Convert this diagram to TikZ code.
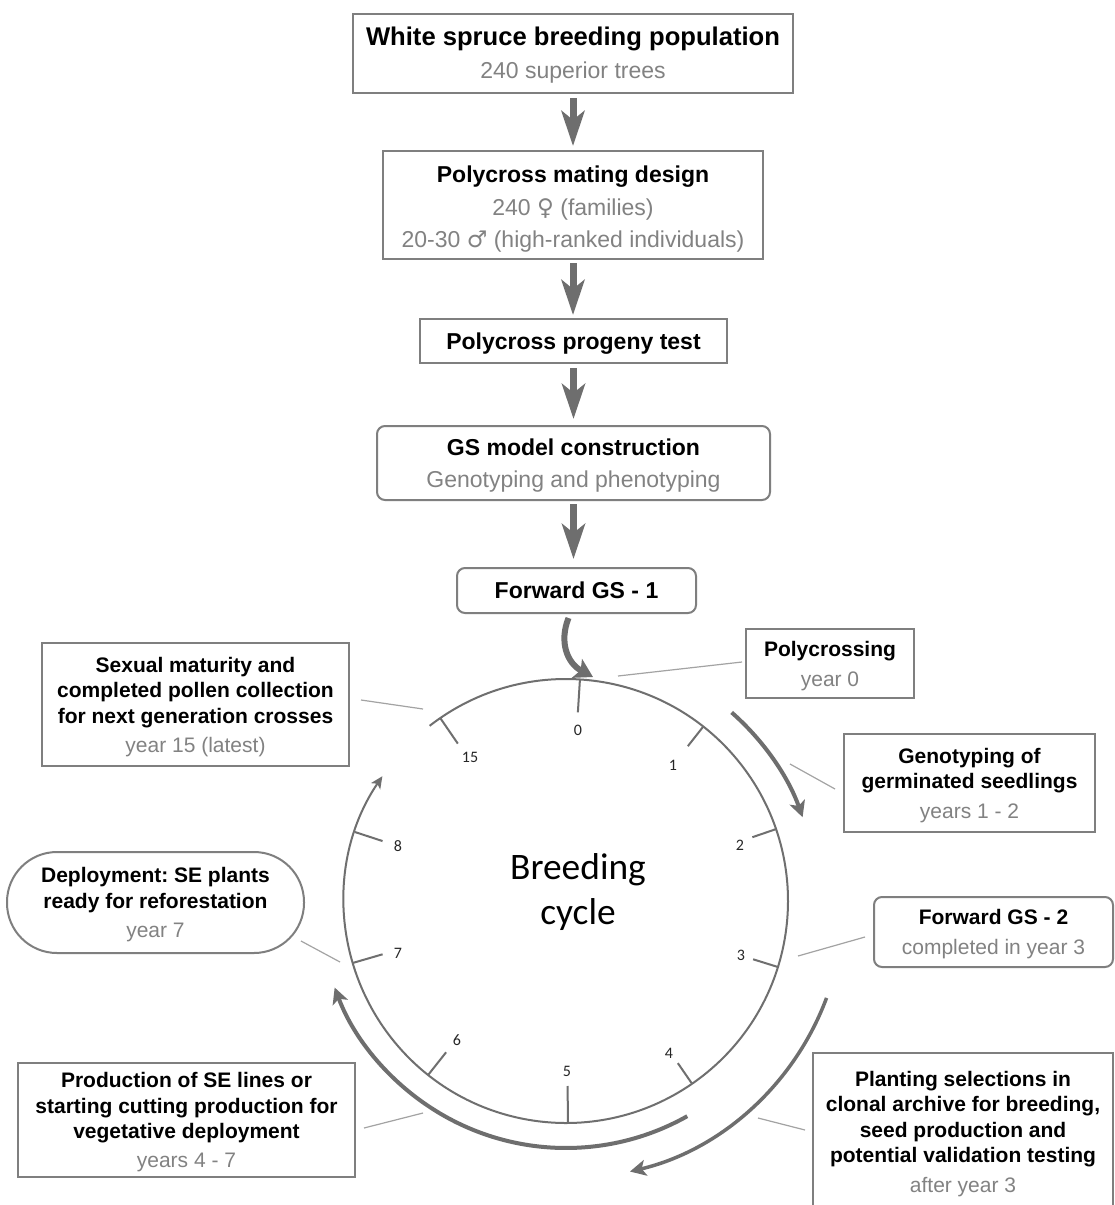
\documentclass[tikz,border=0pt]{standalone}
\usepackage{fontspec}
\setmainfont{Liberation Sans}
\newfontfamily\calib{Carlito}
\newfontfamily\dejavu{DejaVu Sans}
\usetikzlibrary{arrows.meta,calc}
\frenchspacing
\definecolor{boxline}{HTML}{7F7F7F}
\definecolor{txtgray}{HTML}{828282}
\definecolor{arrowgray}{HTML}{6E6E6E}
\definecolor{circgray}{HTML}{6F6F6F}
\definecolor{conngray}{HTML}{A3A3A3}
% struts that centre the visible text in its box
\newcommand{\tT}{\rule{0pt}{22.9pt}}   % title line top
\newcommand{\tA}{\rule{0pt}{22pt}}     % 23pt text top
\newcommand{\bA}{\rule[-5.5pt]{0pt}{5.5pt}} % 23pt text bottom
\newcommand{\tB}{\rule{0pt}{20pt}}     % 21pt text top
\newcommand{\bB}{\rule[-5pt]{0pt}{5pt}}     % 21pt text bottom
\begin{document}
\begin{tikzpicture}[x=1pt,y=1pt,
  box/.style={draw=boxline,line width=2pt,align=center,inner sep=0pt},
  rbox/.style={box,rounded corners=8pt},
  topfont/.style={font=\fontsize{23}{32.5}\selectfont},
  cycfont/.style={font=\fontsize{21}{25.5}\selectfont},
  bigarrow/.style={draw=arrowgray,line width=7pt,-{Stealth[length=35pt,width=23pt,inset=9pt]}},
  ringarrow/.style={draw=arrowgray,line width=4pt,-{Stealth[length=16pt,width=16pt,inset=4pt]}},
  conn/.style={draw=conngray,line width=1.2pt},
  tickline/.style={draw=circgray,line width=2pt},
  ticklabel/.style={font=\calib\fontsize{16}{16}\selectfont,text=black!85,inner sep=0pt}]

\path[use as bounding box, clip] (0,0) rectangle (1114,-1205);
\fill[white] (0,0) rectangle (1114,-1205);

% ---------- top chain ----------
\node[box,topfont,minimum width=440,minimum height=79] (b1) at (573,-53.5)
  {\tT{\fontsize{25.6}{32.5}\selectfont\bfseries White spruce breeding population}\\\textcolor{txtgray}{240 superior trees}\bA};
\node[box,topfont,minimum width=380,minimum height=108] (b2) at (573,-205)
  {\rule{0pt}{26pt}\textbf{Polycross mating design}\\\textcolor{txtgray}{240 {\dejavu ♀} (families)}\\\textcolor{txtgray}{20-30 {\dejavu ♂} (high-ranked individuals)}\bA};
\node[box,topfont,minimum width=307,minimum height=44] (b3) at (573.5,-341)
  {\tA\textbf{Polycross progeny test}\bA};
\node[rbox,topfont,minimum width=393,minimum height=74] (b4) at (573.5,-463)
  {\tA\textbf{GS model construction}\\\textcolor{txtgray}{Genotyping and phenotyping}\bA};
\node[rbox,topfont,minimum width=239,minimum height=45] (b5) at (576.5,-590.5)
  {\tA\textbf{Forward GS - 1}\bA};

\draw[bigarrow] ([yshift=-4pt]b1.south) -- ($(b1.south |- b2.north)+(0,4)$);
\draw[bigarrow] ([yshift=-3pt]b2.south) -- ($(b2.south |- b3.north)+(0,3)$);
\draw[bigarrow] ([yshift=-4pt]b3.south) -- ($(b3.south |- b4.north)+(0,6)$);
\draw[bigarrow] ([yshift=-3pt]b4.south) -- ($(b4.south |- b5.north)+(0,8)$);

% ---------- cycle ----------
\coordinate (C) at (566,-901);
\draw[circgray,line width=2pt,-{Stealth[length=12pt,width=11pt,inset=3pt]}]
  ($(C)+(127.9:222)$) arc[start angle=127.9,end angle=-214.2,radius=222];
\foreach \a/\r in {86.4/189, 51.8/197, 18.9/197, -17.3/196, -55.4/197, -89.5/185, -128.4/193, 196.2/191, 161.9/193, 124.5/191}
  \draw[tickline] ($(C)+(\a:222)$) -- ($(C)+(\a:\r)$);

\node[ticklabel] (t0) at (578,-730) {0};
\node[ticklabel] (t1) at (673,-765) {1};
\node[ticklabel] (t2) at (740,-845) {2};
\node[ticklabel] (t3) at (741,-955) {3};
\node[ticklabel] (t4) at (669,-1053) {4};
\node[ticklabel] (t5) at (567,-1071) {5};
\node[ticklabel] (t6) at (457,-1040) {6};
\node[ticklabel] (t7) at (398,-953) {7};
\node[ticklabel] (t8) at (398,-846) {8};
\node[ticklabel] (t15) at (470,-757) {15};

\node[font=\calib\fontsize{37.4}{45}\selectfont,align=center,inner sep=0pt] (bc) at (578,-892.5) {Breeding\\cycle};

% cycle arrows
\draw[ringarrow] ($(C)+(48.7:251)$) arc[start angle=48.7,end angle=19.5,radius=251];
\draw[ringarrow,line width=3.5pt] ($(C)+(-20.4:278)$) arc[start angle=-20.4,end angle=-76.7,radius=278];
\draw[ringarrow] ($(C)+(-60.6:247)$) arc[start angle=-60.6,end angle=-159.5,radius=247];

\coordinate (ctop) at (593,-677);
\draw[draw=arrowgray,line width=6pt,-{Stealth[length=18pt,width=21pt,inset=4pt]}]
  ([xshift=-8pt,yshift=-4pt]b5.south) .. controls (559,-642) and (567,-663) .. (ctop);

% ---------- cycle boxes ----------
\node[box,cycfont,minimum width=168,minimum height=69] (pc) at (830,-663.5)
  {\tB\textbf{Polycrossing}\\[4.5pt]\textcolor{txtgray}{year 0}\bB};
\node[box,cycfont,minimum width=307,minimum height=123] (sm) at (195.5,-704.5)
  {\tB\textbf{Sexual maturity and}\\\textbf{completed pollen collection}\\\textbf{for next generation crosses}\\[3.5pt]\textcolor{txtgray}{year 15 (latest)}\bB};
\node[box,cycfont,minimum width=251,minimum height=98] (gt) at (969.5,-783)
  {\tB\textbf{Genotyping of}\\\textbf{germinated seedlings}\\[4pt]\textcolor{txtgray}{years 1 - 2}\bB};
\node[rbox,cycfont,minimum width=239,minimum height=70] (fg2) at (993.5,-932)
  {\tB\textbf{Forward GS - 2}\\[4.5pt]\textcolor{txtgray}{completed in year 3}\bB};
\node[box,cycfont,rounded corners=50pt,minimum width=297,minimum height=101] (dp) at (155.5,-902.5)
  {\tB\textbf{Deployment: SE plants}\\\textbf{ready for reforestation}\\[4pt]\textcolor{txtgray}{year 7}\bB};
\node[box,cycfont,minimum width=337,minimum height=114] (pr) at (186.5,-1120)
  {\tB\textbf{Production of SE lines or}\\\textbf{starting cutting production for}\\\textbf{vegetative deployment}\\[3.5pt]\textcolor{txtgray}{years 4 - 7}\bB};
\node[box,cycfont,anchor=north,minimum width=300,inner ysep=18pt] (pl) at (963,-1052)
  {\textbf{Planting selections in}\\\textbf{clonal archive for breeding,}\\\textbf{seed production and}\\\textbf{potential validation testing}\\[4.5pt]\textcolor{txtgray}{after year 3}};

% ---------- connectors ----------
\coordinate (k0) at (618,-676);
\coordinate (k15) at (423,-709);
\coordinate (k1) at (790,-764);
\coordinate (k3) at (798,-956);
\coordinate (k4) at (758,-1118);
\coordinate (k7) at (340,-962);
\coordinate (k6) at (423,-1113);
\draw[conn] (k0) -- ([xshift=-3pt,yshift=1.5pt]pc.west);
\draw[conn] (k15) -- ([xshift=11pt,yshift=4.5pt]sm.east);
\draw[conn] (k1) -- ([xshift=-8pt,yshift=-6pt]gt.west);
\draw[conn] (k3) -- ([xshift=-8pt,yshift=-5pt]fg2.west);
\draw[conn] (k4) -- ([xshift=-7pt,yshift=-78pt]pl.north west);
\draw[conn] (k7) -- ([xshift=-4pt,yshift=-38.5pt]dp.east);
\draw[conn] (k6) -- ([xshift=8pt,yshift=-8pt]pr.east);
\end{tikzpicture}
\end{document}
